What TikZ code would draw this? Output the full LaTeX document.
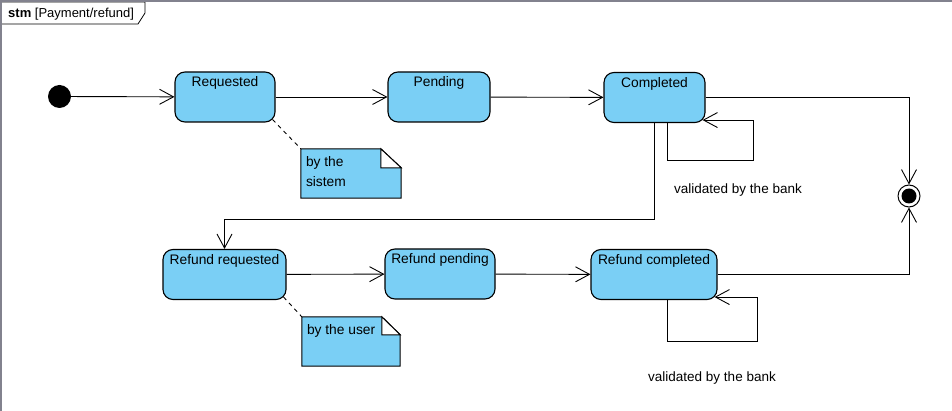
\documentclass[tikz,border=0pt]{standalone}
\usepackage{fontspec}
\setmainfont{Liberation Sans}
\usetikzlibrary{arrows.meta,calc}
\definecolor{stfill}{RGB}{122,207,245}
\definecolor{framegray}{RGB}{130,130,142}
\begin{document}
\begin{tikzpicture}[x=1pt,y=-1pt,
  stnode/.style={draw=black, line width=1.1pt, fill=stfill, rounded corners=10pt,
    inner xsep=0pt, inner ysep=0pt, text height=15pt, text depth=35pt,
    font=\fontsize{13.8}{16}\selectfont},
  tr/.style={draw=black, line width=0.9pt, -{Straight Barb[length=14pt,width=15pt]}},
  notebox/.style={inner sep=0pt},
  noteshape/.style={draw=black, line width=1pt, fill=stfill},
  notetext/.style={anchor=north west, align=left, inner sep=0pt,
    font=\fontsize{13.8}{20}\selectfont},
  lbl/.style={inner sep=0pt, font=\fontsize{13.5}{16}\selectfont},
  anchorline/.style={draw=black, line width=0.9pt, dash pattern=on 4pt off 4pt}
]
\useasboundingbox (0,0) rectangle (952,411);
% frame and tab
\fill[white] (0,0) rectangle (952,411);
\draw[black, line width=0.8pt, fill=white] (2,2) -- (145,2) -- (145,13) -- (138,24) -- (2,24);
\node[inner sep=0pt, anchor=base west, font=\fontsize{13}{15}\selectfont] (title) at (8,18) {\textbf{stm} [Payment/refund]};
\draw[framegray, line width=2pt] (1,411) -- (1,1) -- (952,1);

% states
\node[circle, fill=black, minimum size=23pt, inner sep=0pt] (init) at (59.5,96.5) {};
\node[stnode, minimum width=100pt] (req) at (225,97) {Requested};
\node[stnode, minimum width=102pt] (pend) at (439,97) {Pending};
\node[stnode, minimum width=101pt] (comp) at (654.5,97.5) {Completed};
\node[stnode, minimum width=123pt] (rreq) at (224.5,274.5) {Refund requested};
\node[stnode, minimum width=110pt] (rpend) at (440,274) {Refund pending};
\node[stnode, minimum width=126pt] (rcomp) at (654,274.5) {Refund completed};
\node[circle, draw=black, line width=1pt, fill=white, minimum size=22pt, inner sep=0pt,
  path picture={\fill[black] (path picture bounding box.center) circle (7.5pt);}] (fin) at (909,196) {};

% transitions
\draw[tr] (init) -- (req);
\draw[tr] (req) -- (pend);
\draw[tr] (pend) -- (comp);
\draw[tr] (comp.east) -| (fin.north);
\draw[tr] (rcomp.east) -| (fin.south);
\draw[tr] (comp.south) -- ++(0,96) -| (rreq.north);
\draw[tr] (rreq) -- (rpend);
\draw[tr] (rpend) -- (rcomp);
% self loops
\coordinate (c1s) at ($(comp.south)+(12.5,0)$);
\coordinate (c1t) at ($(comp.south east)+(-3,-3)$);
\draw[tr] (c1s) -- ++(0,37) -- ++(86,0) |- (c1t);
\coordinate (c2s) at ($(rcomp.south)+(13,0)$);
\coordinate (c2t) at ($(rcomp.south east)+(-3,-3)$);
\draw[tr] (c2s) -- ++(0,41) -- ++(90,0) |- (c2t);

\node[lbl] (v1) at (738,190) {validated by the bank};
\node[lbl] (v2) at (712,378) {validated by the bank};

% notes
\node[notebox, minimum width=100pt, minimum height=49pt] (n1) at (351,173.5) {};
\draw[noteshape] (n1.north west) -- ++(80,0) -- ($(n1.north east)+(0,19)$) -- (n1.south east) -- (n1.south west) -- cycle;
\draw[line width=1pt, fill=white] ($(n1.north west)+(80,0)$) -- ($(n1.north east)+(0,19)$) -- ($(n1.north west)+(80,19)$) -- cycle;
\node[notetext] (t1) at ($(n1.north west)+(5,8)$) {by the\\sistem};
\coordinate (rq1) at ($(req.south east)+(-3,-3)$);
\draw[anchorline] (rq1) -- (n1.north west);

\node[notebox, minimum width=98pt, minimum height=49pt] (n2) at (351,341.5) {};
\draw[noteshape] (n2.north west) -- ++(80,0) -- ($(n2.north east)+(0,18)$) -- (n2.south east) -- (n2.south west) -- cycle;
\draw[line width=1pt, fill=white] ($(n2.north west)+(80,0)$) -- ($(n2.north east)+(0,18)$) -- ($(n2.north west)+(80,18)$) -- cycle;
\node[notetext] (t2) at ($(n2.north west)+(5,8)$) {by the user};
\coordinate (rq2) at ($(rreq.south east)+(-3,-3)$);
\draw[anchorline] (rq2) -- (n2.north west);
\end{tikzpicture}
\end{document}
